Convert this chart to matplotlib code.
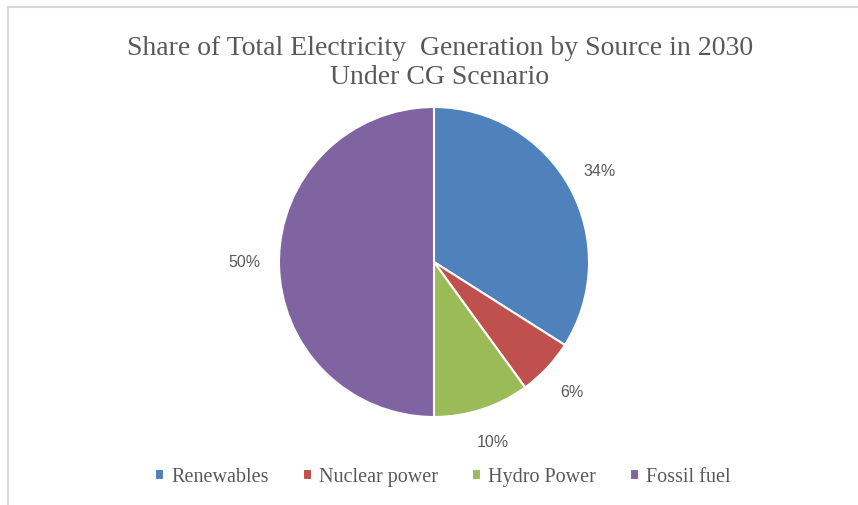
import matplotlib
matplotlib.use("Agg")
import matplotlib.pyplot as plt
from matplotlib.lines import Line2D

categories = ["Renewables", "Nuclear power", "Hydro Power", "Fossil fuel"]
shares = [34, 6, 10, 50]
colors = ["#4F81BD", "#C0504D", "#9BBB59", "#8064A2"]
title = "Share of Total Electricity  Generation by Source in 2030\nUnder CG Scenario"

W, H = 858, 506
fig = plt.figure(figsize=(W / 100, H / 100), dpi=100)
fig.patch.set_facecolor("white")

# frame lines (top and left, as in the cropped screenshot)
fig.add_artist(Line2D([8 / W, 1], [1 - 8 / H, 1 - 8 / H], color="#D9D9D9", lw=1.5))
fig.add_artist(Line2D([8 / W, 8 / W], [0, 1 - 8 / H], color="#D9D9D9", lw=1.5))

cx, cy, r = 434, 263, 155
ax = fig.add_axes([(cx - r) / W, (H - cy - r) / H, 2 * r / W, 2 * r / H])
wedges, texts, autotexts = ax.pie(
    shares, colors=colors, startangle=90, counterclock=False,
    autopct=lambda p: f"{p:.0f}%", pctdistance=1.22,
    wedgeprops=dict(edgecolor="white", linewidth=1.5),
    textprops=dict(fontsize=11.5, color="#595959", family=["Liberation Sans", "DejaVu Sans"]),
)
ax.set_xlim(-1, 1)
ax.set_ylim(-1, 1)
ax.set_aspect("equal")
ax.axis("off")

fig.text(440 / W, 1 - 63 / H, title, ha="center", va="center", fontsize=20,
         color="#595959", family=["Liberation Serif", "DejaVu Serif"], linespacing=1.2)

fig.legend(wedges, categories, loc="center", bbox_to_anchor=(443 / W, 1 - 478 / H),
           ncol=4, frameon=False, handlelength=0.45, handleheight=0.45,
           handletextpad=0.35, columnspacing=1.7,
           prop=dict(family=["Liberation Serif", "DejaVu Serif"], size=14.5),
           labelcolor="#595959")

fig.savefig("out.png", dpi=100)
